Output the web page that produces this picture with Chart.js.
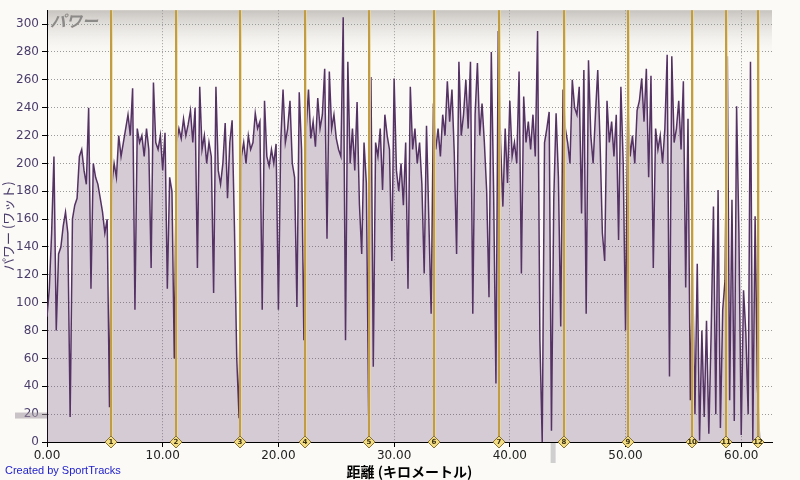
<!DOCTYPE html>
<html lang="ja">
<head>
<meta charset="UTF-8">
<title>パワー</title>
<script src="https://cdn.jsdelivr.net/npm/chart.js@4.4.0/dist/chart.umd.min.js"></script>
<style>
  html, body { margin: 0; padding: 0; background: #fbfaf6; }
  #wrap { position: relative; width: 800px; height: 480px; }
  #powerChart { position: absolute; left: 0; top: 0; }
  #plotTitle { position: absolute; left: 50px; top: 8px; font: italic bold 16px "Noto Sans CJK JP", sans-serif; color: #8c8a88; }
  #credit { position: absolute; left: 5px; top: 464px; font: 11px "Liberation Sans", Arial, sans-serif; color: #2222cc; }
</style>
</head>
<body>
<div id="wrap">
  <canvas id="powerChart" width="800" height="480"></canvas>
  <div id="plotTitle">パワー</div>
  <div id="credit">Created by SportTracks</div>
</div>
<script>
// power samples (watts), one every 0.2 km
const stepKm = 0.2;
const power = [
  90, 110, 150, 205, 80, 135, 140, 155, 165, 150,
  18, 160, 170, 175, 205, 210, 195, 185, 240, 110,
  200, 190, 185, 175, 165, 150, 160, 25,
  185, 200, 190, 220, 205, 215, 225, 235, 220, 254,
  95, 225, 215, 220, 205, 225, 210, 125, 258, 215,
  210, 220, 195, 222, 110, 190, 180, 60,
  215, 225, 218, 232, 220, 228, 238, 215, 240, 125,
  255, 210, 220, 200, 215, 205, 107, 255, 195, 185,
  200, 229, 175, 215, 231, 154, 60, 17,
  205, 215, 200, 220, 210, 215, 236, 225, 230, 95,
  245, 205, 198, 210, 200, 214, 95, 215, 253, 215,
  225, 245, 200, 190, 97, 251, 210, 73,
  225, 253, 218, 230, 212, 247, 225, 235, 268, 146,
  266, 225, 235, 218, 210, 205, 305, 73, 273, 200,
  225, 195, 244, 171, 135, 215, 186, 19,
  262, 54, 215, 205, 225, 181, 235, 220, 210, 130,
  261, 195, 180, 200, 170, 215, 110, 255, 210, 225,
  200, 215, 185, 121, 227, 160, 92,
  243, 210, 225, 205, 235, 220, 259, 230, 253, 207,
  135, 273, 220, 235, 260, 225, 273, 92, 235, 272,
  220, 243, 215, 180, 104, 280, 180, 42, 295,
  215, 169, 225, 186, 245, 205, 215, 200, 266, 121,
  248, 215, 230, 210, 235, 205, 295, 73, 0, 215,
  225, 237, 8, 175, 236, 190, 83, 253,
  225, 215, 200, 260, 240, 235, 255, 164, 267, 92,
  274, 220, 200, 235, 267, 215, 150, 130, 245, 215,
  230, 205, 235, 145, 255, 200, 80,
  243, 205, 220, 200, 238, 245, 261, 230, 268, 190,
  263, 125, 225, 210, 220, 200, 225, 278, 47, 277,
  215, 225, 245, 210, 259, 111, 232, 30,
  121, 20, 128, 1, 80, 18, 87, 6, 78, 169,
  20, 181, 10, 95, 116,
  277, 30, 174, 15, 241, 150, 5, 109, 78, 20,
  273, 1, 162, 40, 0
];
const lapKm = [5.53, 11.15, 16.68, 22.3, 27.83, 33.45, 39.07, 44.68, 50.22, 55.75, 58.69, 61.45];
const xMax = 62.66;
const yMax = 310;
const markerPower = 19;     // grey marker on the y axis
const markerKm = 43.7;      // grey marker under the x axis

const points = power.map((p, i) => ({ x: +(i * stepKm).toFixed(2), y: p }));

const backdrop = {
  id: 'backdrop',
  beforeDraw(chart) {
    const { ctx, chartArea: a } = chart;
    ctx.save();
    const g = ctx.createLinearGradient(0, a.top, 0, a.top + 48);
    g.addColorStop(0, '#c7c3bf');
    g.addColorStop(1, 'rgba(251,250,246,0)');
    ctx.fillStyle = g;
    ctx.fillRect(a.left, a.top, a.right - a.left, 48);
    ctx.restore();
  }
};

const laps = {
  id: 'laps',
  afterDatasetsDraw(chart) {
    const { ctx, chartArea: a, scales: { x, y } } = chart;
    ctx.save();
    lapKm.forEach(km => {
      const px = Math.round(x.getPixelForValue(km));
      ctx.fillStyle = '#c29c40';
      ctx.fillRect(px - 1, a.top, 2, a.bottom - a.top);
      ctx.fillStyle = 'rgba(232,216,160,0.8)';
      ctx.fillRect(px + 1, a.top, 1, a.bottom - a.top);
    });
    // grey range markers
    ctx.fillStyle = 'rgba(160,150,160,0.55)';
    const my = y.getPixelForValue(markerPower);
    ctx.fillRect(15, my - 3, a.left - 15, 6);
    ctx.fillStyle = '#cfcfcf';
    const mx = x.getPixelForValue(markerKm);
    ctx.fillRect(mx - 2, a.bottom + 1, 5, 20);
    ctx.restore();
  },
  afterDraw(chart) {
    const { ctx, chartArea: a, scales: { x } } = chart;
    ctx.save();
    ctx.font = 'bold 7px "DejaVu Sans", sans-serif';
    ctx.textAlign = 'center';
    ctx.textBaseline = 'middle';
    lapKm.forEach((km, i) => {
      const px = Math.round(x.getPixelForValue(km));
      const py = a.bottom;
      ctx.beginPath();
      ctx.moveTo(px, py - 6);
      ctx.lineTo(px + 6, py);
      ctx.lineTo(px, py + 6);
      ctx.lineTo(px - 6, py);
      ctx.closePath();
      ctx.fillStyle = '#f2dc84';
      ctx.fill();
      ctx.strokeStyle = '#8a7330';
      ctx.lineWidth = 1;
      ctx.stroke();
      ctx.fillStyle = '#3a3010';
      ctx.fillText(String(i + 1), px, py + 0.5);
    });
    ctx.restore();
  }
};

new Chart(document.getElementById('powerChart'), {
  type: 'line',
  data: {
    datasets: [{
      data: points,
      borderColor: '#553264',
      borderWidth: 1.5,
      backgroundColor: 'rgba(90,55,110,0.24)',
      fill: 'origin',
      pointRadius: 0,
      tension: 0
    }]
  },
  options: {
    responsive: false,
    animation: false,
    events: [],
    layout: { padding: { top: 10, right: 28, left: 0, bottom: 0 } },
    plugins: { legend: { display: false }, tooltip: { enabled: false } },
    scales: {
      x: {
        type: 'linear',
        min: 0,
        max: xMax,
        afterFit: s => { s.height = 38; },
        ticks: {
          stepSize: 10,
          includeBounds: false,
          autoSkip: false,
          maxRotation: 0,
          padding: 2,
          color: '#222',
          font: { family: '"DejaVu Sans", sans-serif', size: 12 },
          callback: v => v.toFixed(2)
        },
        grid: { color: '#9a9a9a', tickLength: 5, tickColor: '#000' },
        border: { color: '#000', width: 1, dash: [1, 2] },
        title: {
          display: true,
          text: '距離 (キロメートル)',
          color: '#000',
          font: { family: '"Noto Sans CJK JP", sans-serif', size: 14, weight: 'bold' },
          padding: { top: 0, bottom: 0 }
        }
      },
      y: {
        min: 0,
        max: yMax,
        afterFit: s => { s.width = 47; },
        ticks: {
          stepSize: 20,
          includeBounds: false,
          padding: 3,
          color: '#4b3d6b',
          font: { family: '"DejaVu Sans", sans-serif', size: 12 }
        },
        grid: { color: '#9a9a9a', tickLength: 5, tickColor: '#000' },
        border: { color: '#000', width: 1, dash: [1, 2] },
        title: {
          display: true,
          text: 'パワー (ワット)',
          color: '#4b3d6b',
          font: { family: '"Noto Sans CJK JP", sans-serif', size: 13 },
          padding: { top: 0, bottom: 2 }
        }
      }
    }
  },
  plugins: [backdrop, laps]
});
</script>
</body>
</html>
